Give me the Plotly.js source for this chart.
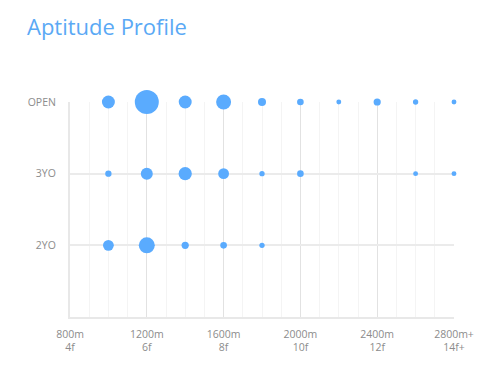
<!DOCTYPE html>
<html>
<head>
<meta charset="utf-8">
<script src="https://cdn.plot.ly/plotly-3.0.1.min.js"></script>
<style>html,body{margin:0;padding:0;background:#fff;}#chart{width:495px;height:366px;}</style>
</head>
<body>
<div id="chart"></div>
<script>
// Data
const distances = [1000, 1200, 1400, 1600, 1800, 2000, 2200, 2400, 2600, 2800];
const categories = ["2YO", "3YO", "OPEN"];
const openValues = [42, 144, 42, 56, 16, 11, 6, 13, 7, 6];
const threeYoValues = [10, 36, 44, 29, 7, 11, null, null, 6, 6];
const twoYoValues = [29, 64, 13, 11, 7, null, null, null, null, null];
const tickValues = [800, 1200, 1600, 2000, 2400, 2800];
const tickLabels = ["800m<br>4f", "1200m<br>6f", "1600m<br>8f", "2000m<br>10f", "2400m<br>12f", "2800m+<br>14f+"];

const rows = [["OPEN", openValues], ["3YO", threeYoValues], ["2YO", twoYoValues]];
const allVals = [].concat(openValues, threeYoValues, twoYoValues).filter(v => v != null);
const maxVal = Math.max(...allVals);
const maxSize = 24;
const color = "#5aabfe";

const traces = rows.map(([cat, vals]) => {
  const xs = [], ys = [], ss = [];
  distances.forEach((d, i) => {
    if (vals[i] != null) { xs.push(d); ys.push(cat); ss.push(vals[i]); }
  });
  return {
    type: "scatter", mode: "markers", x: xs, y: ys, cliponaxis: false,
    marker: { size: ss, sizemode: "area", sizeref: 2 * maxVal / (maxSize * maxSize), color: color, opacity: 1, line: { width: 0 } },
    hoverinfo: "x+y", showlegend: false
  };
});

const layout = {
  width: 495, height: 366,
  margin: { l: 70, r: 41, t: 102, b: 49 },
  paper_bgcolor: "#fff", plot_bgcolor: "#fff",
  title: { text: "Aptitude Profile", x: 27 / 495, xref: "container", xanchor: "left",
    y: 1 - 27 / 366, yref: "container", yanchor: "middle",
    font: { family: "Open Sans, sans-serif", size: 22, color: "#5aa9f5" } },
  font: { family: "Open Sans, sans-serif", color: "#8c8c8c", size: 11 },
  xaxis: {
    range: [800, 2800], tickvals: tickValues, ticktext: tickLabels,
    showgrid: true, gridcolor: "#e2e2e2", gridwidth: 1,
    minor: { dtick: 100, tick0: 800, showgrid: true, gridcolor: "#f4f4f4", gridwidth: 1, ticks: "" },
    showline: true, linecolor: "#e8e8e8", linewidth: 2, zeroline: false, ticks: "",
    ticklabelstandoff: 6,
    tickfont: { size: 10.5, color: "#8c8c8c" }, fixedrange: true
  },
  yaxis: {
    type: "category", categoryarray: categories, categoryorder: "array", range: [-1, 2],
    showgrid: true, gridcolor: "#ebebeb", gridwidth: 2,
    showline: true, linecolor: "#e8e8e8", linewidth: 2, zeroline: false, ticks: "",
    ticklabelstandoff: 10, tickfont: { size: 10.5, color: "#8c8c8c" }, fixedrange: true
  }
};

Plotly.newPlot("chart", traces, layout, { displayModeBar: false, staticPlot: true });
</script>
</body>
</html>
